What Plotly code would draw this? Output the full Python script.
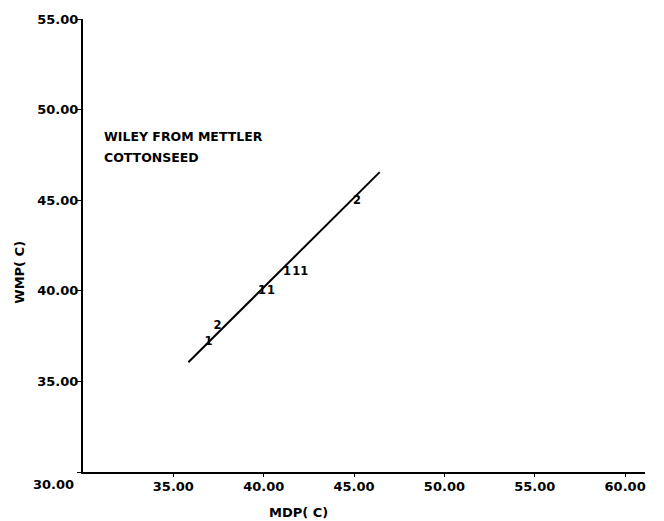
import plotly.graph_objects as go

# Data (plotted digits are count markers)
pt_x = [36.94, 37.44, 39.90, 40.40, 41.29, 41.80, 42.24, 45.16]
pt_y = [37.16, 38.07, 40.00, 40.00, 41.05, 41.05, 41.05, 44.94]
pt_lab = ["1", "2", "1", "1", "1", "1", "1", "2"]

fit_x = [35.83, 46.42]
fit_y = [36.06, 46.55]

x_ticks = [35, 40, 45, 50, 55, 60]
x_ticktext = ["35.00", "40.00", "45.00", "50.00", "55.00", "60.00"]
y_ticks = [30, 35, 40, 45, 50, 55]
y_ticktext = ["", "35.00", "40.00", "45.00", "50.00", "55.00"]

FONT = "DejaVu Sans"

fig = go.Figure()
fig.add_trace(go.Scatter(x=fit_x, y=fit_y, mode="lines",
                         line=dict(color="black", width=2), showlegend=False))
fig.add_trace(go.Scatter(x=pt_x, y=pt_y, mode="text", text=pt_lab,
                         textfont=dict(family=FONT, size=11.5, color="black", weight="bold"),
                         textposition="middle center", showlegend=False))

fig.update_layout(
    width=664, height=521,
    margin=dict(l=83, r=19, t=17, b=49),
    paper_bgcolor="white", plot_bgcolor="white",
    font=dict(family=FONT, color="black", size=13, weight="bold"),
    xaxis=dict(range=[30, 61.1], tickvals=x_ticks, ticktext=x_ticktext,
               showgrid=False, zeroline=False, showline=True, linecolor="black",
               linewidth=2, ticks="outside", ticklen=3, tickcolor="black",
               ticklabelstandoff=-2,
               tickfont=dict(family=FONT, size=13, weight="bold")),
    yaxis=dict(range=[30, 55], tickvals=y_ticks, ticktext=y_ticktext,
               showgrid=False, zeroline=False, showline=True, linecolor="black",
               linewidth=2, ticks="outside", ticklen=4, tickcolor="black",
               ticklabelstandoff=-4,
               tickfont=dict(family=FONT, size=13, weight="bold")),
    annotations=[
        dict(text="30.00", x=0, xref="paper", y=30, yref="y", xanchor="right",
             yanchor="middle", xshift=-7, yshift=-12, showarrow=False,
             font=dict(family=FONT, size=13, weight="bold")),
        dict(text="WILEY FROM METTLER", x=31.04, y=48.5, xanchor="left", yanchor="middle",
             showarrow=False, font=dict(family=FONT, size=12.5, weight="bold")),
        dict(text="COTTONSEED", x=31.04, y=47.35, xanchor="left", yanchor="middle",
             showarrow=False, font=dict(family=FONT, size=12.5, weight="bold")),
        dict(text="MDP( C)", x=41.9, y=0, yref="paper", xanchor="center",
             yanchor="middle", yshift=-40, showarrow=False,
             font=dict(family=FONT, size=13, weight="bold")),
        dict(text="WMP( C)", x=0, xref="paper", y=41.0, xanchor="center",
             yanchor="middle", xshift=-63, textangle=-90, showarrow=False,
             font=dict(family=FONT, size=13, weight="bold")),
    ],
)

fig.write_html("out.html")
